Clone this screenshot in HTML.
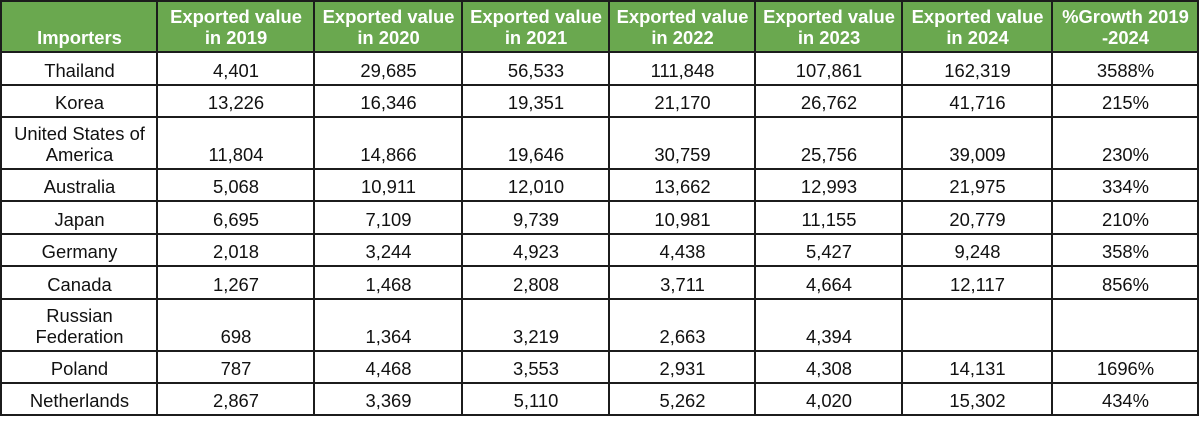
<!DOCTYPE html>
<html>
<head>
<meta charset="utf-8">
<style>
  html, body { margin:0; padding:0; background:#fff; }
  body { width:1200px; height:417px; position:relative; overflow:hidden;
         font-family:"Liberation Sans", Arial, sans-serif; font-size:18.4px; color:#111; }
  .hdr { position:absolute; left:0; top:0; width:1198px; height:52px; background:#6aa84f; }
  .h { position:absolute; height:2px; left:0; width:1199px; background:#1c1c1c; }
  .v { position:absolute; width:2px; top:0; height:416px; background:#1c1c1c; }
  .r { position:absolute; left:0; width:1200px; height:44px; }
  .r span { position:absolute; top:0; text-align:center; line-height:21px; white-space:nowrap; }
  .r span.d { top:21px; }
  .hd span { color:#fff; font-weight:bold; }
  .c0 { left:2px; width:155px; }
  .c1 { left:158px; width:156px; }
  .c2 { left:315px; width:147px; }
  .c3 { left:463px; width:146px; }
  .c4 { left:610px; width:145px; }
  .c5 { left:756px; width:146px; }
  .c6 { left:903px; width:149px; }
  .c7 { left:1053px; width:145px; }
</style>
</head>
<body>
<div class="hdr"></div>

<!-- header -->
<div class="r hd" style="top:6.1px">
  <span class="c0 d">Importers</span>
  <span class="c1">Exported value<br>in 2019</span>
  <span class="c2">Exported value<br>in 2020</span>
  <span class="c3">Exported value<br>in 2021</span>
  <span class="c4">Exported value<br>in 2022</span>
  <span class="c5">Exported value<br>in 2023</span>
  <span class="c6">Exported value<br>in 2024</span>
  <span class="c7">%Growth 2019<br>-2024</span>
</div>

<div class="r" style="top:59.6px">
  <span class="c0">Thailand</span><span class="c1">4,401</span><span class="c2">29,685</span><span class="c3">56,533</span><span class="c4">111,848</span><span class="c5">107,861</span><span class="c6">162,319</span><span class="c7">3588%</span>
</div>
<div class="r" style="top:91.6px">
  <span class="c0">Korea</span><span class="c1">13,226</span><span class="c2">16,346</span><span class="c3">19,351</span><span class="c4">21,170</span><span class="c5">26,762</span><span class="c6">41,716</span><span class="c7">215%</span>
</div>
<div class="r" style="top:122.6px">
  <span class="c0">United States of<br>America</span><span class="c1 d">11,804</span><span class="c2 d">14,866</span><span class="c3 d">19,646</span><span class="c4 d">30,759</span><span class="c5 d">25,756</span><span class="c6 d">39,009</span><span class="c7 d">230%</span>
</div>
<div class="r" style="top:175.6px">
  <span class="c0">Australia</span><span class="c1">5,068</span><span class="c2">10,911</span><span class="c3">12,010</span><span class="c4">13,662</span><span class="c5">12,993</span><span class="c6">21,975</span><span class="c7">334%</span>
</div>
<div class="r" style="top:208.6px">
  <span class="c0">Japan</span><span class="c1">6,695</span><span class="c2">7,109</span><span class="c3">9,739</span><span class="c4">10,981</span><span class="c5">11,155</span><span class="c6">20,779</span><span class="c7">210%</span>
</div>
<div class="r" style="top:240.6px">
  <span class="c0">Germany</span><span class="c1">2,018</span><span class="c2">3,244</span><span class="c3">4,923</span><span class="c4">4,438</span><span class="c5">5,427</span><span class="c6">9,248</span><span class="c7">358%</span>
</div>
<div class="r" style="top:273.6px">
  <span class="c0">Canada</span><span class="c1">1,267</span><span class="c2">1,468</span><span class="c3">2,808</span><span class="c4">3,711</span><span class="c5">4,664</span><span class="c6">12,117</span><span class="c7">856%</span>
</div>
<div class="r" style="top:304.6px">
  <span class="c0">Russian<br>Federation</span><span class="c1 d">698</span><span class="c2 d">1,364</span><span class="c3 d">3,219</span><span class="c4 d">2,663</span><span class="c5 d">4,394</span>
</div>
<div class="r" style="top:357.6px">
  <span class="c0">Poland</span><span class="c1">787</span><span class="c2">4,468</span><span class="c3">3,553</span><span class="c4">2,931</span><span class="c5">4,308</span><span class="c6">14,131</span><span class="c7">1696%</span>
</div>
<div class="r" style="top:389.6px">
  <span class="c0">Netherlands</span><span class="c1">2,867</span><span class="c2">3,369</span><span class="c3">5,110</span><span class="c4">5,262</span><span class="c5">4,020</span><span class="c6">15,302</span><span class="c7">434%</span>
</div>

<!-- horizontal lines -->
<div class="h" style="top:0px"></div>
<div class="h" style="top:51px"></div>
<div class="h" style="top:84px"></div>
<div class="h" style="top:116px"></div>
<div class="h" style="top:168px"></div>
<div class="h" style="top:200px"></div>
<div class="h" style="top:233px"></div>
<div class="h" style="top:265px"></div>
<div class="h" style="top:298px"></div>
<div class="h" style="top:350px"></div>
<div class="h" style="top:382px"></div>
<div class="h" style="top:414px"></div>

<!-- vertical lines -->
<div class="v" style="left:0px"></div>
<div class="v" style="left:156px"></div>
<div class="v" style="left:313px"></div>
<div class="v" style="left:461px"></div>
<div class="v" style="left:608px"></div>
<div class="v" style="left:754px"></div>
<div class="v" style="left:901px"></div>
<div class="v" style="left:1051px"></div>
<div class="v" style="left:1197px"></div>
</body>
</html>
